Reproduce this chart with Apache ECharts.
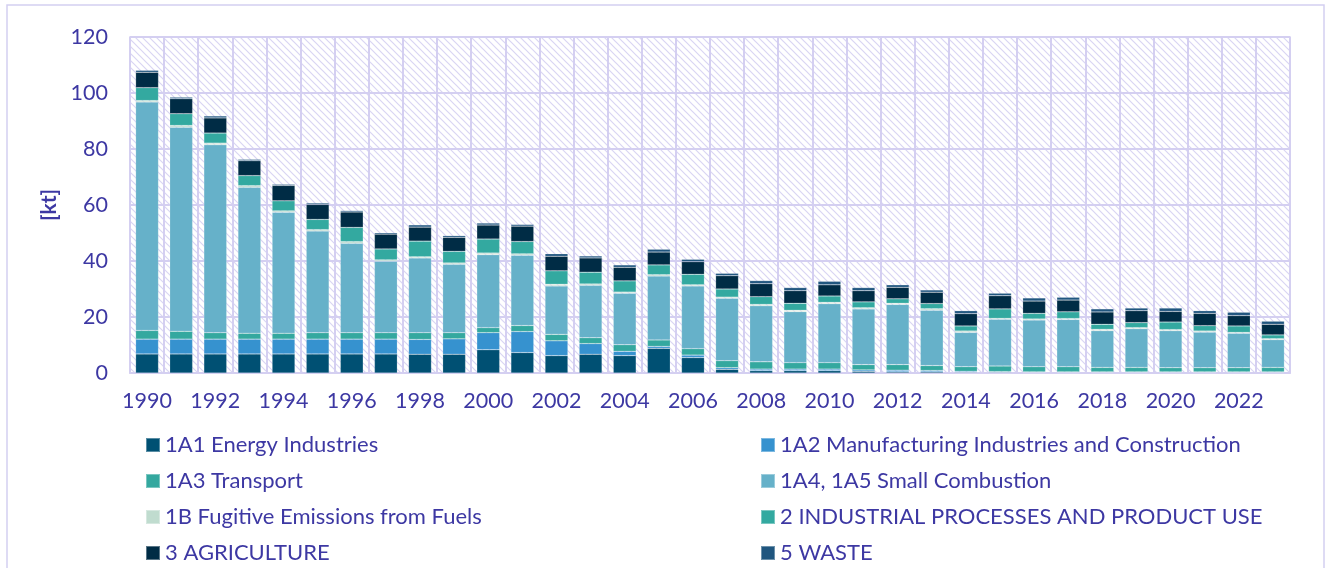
<!DOCTYPE html>
<html>
<head>
<meta charset="utf-8">
<script src="https://cdn.jsdelivr.net/npm/echarts@6/dist/echarts.min.js"></script>
<style>
  html, body { margin: 0; padding: 0; background: #fff; }
  #chart { width: 1330px; height: 568px; }
</style>
</head>
<body>
<div id="chart"></div>
<script>
const years = ['1990','1991','1992','1993','1994','1995','1996','1997','1998','1999','2000','2001','2002','2003','2004','2005','2006','2007','2008','2009','2010','2011','2012','2013','2014','2015','2016','2017','2018','2019','2020','2021','2022','2023']

const energyIndustries = [6.8,6.8,6.8,6.8,6.8,6.8,6.8,6.8,6.7,6.7,8.3,7.3,6.2,6.7,6.2,8.8,5.5,1.3,0.8,0.8,0.8,0.6,0.4,0.4,0.25,0.25,0.2,0.2,0.2,0.2,0.2,0.2,0.2,0.2]
const manufacturing = [5.3,5.3,5.3,5.3,5.3,5.3,5.3,5.3,5.3,5.5,6.1,7.5,5.3,3.8,1.55,0.7,0.9,0.6,0.6,0.6,0.6,0.5,0.6,0.5,0.35,0.25,0.2,0.2,0.2,0.2,0.2,0.2,0.2,0.2]
const transport = [3.1,2.8,2.3,2.1,2.1,2.3,2.3,2.3,2.4,2.2,1.8,2.15,2.3,2.1,2.35,2.3,2.3,2.5,2.6,2.3,2.3,1.9,2.0,1.75,1.65,2.0,1.85,1.85,1.6,1.6,1.5,1.5,1.5,1.6]
const smallCombustion = [81.6,72.9,67.1,52.1,43.2,36.3,31.9,25.5,26.7,24.4,26.05,25.1,17.3,18.7,18.4,22.8,22.4,22.3,20.0,18.2,21.05,19.9,21.5,19.8,12.25,16.7,16.65,16.9,13.1,13.8,13.2,12.7,12.3,9.9]
const fugitive = [0.5,0.6,0.6,0.6,0.5,0.5,0.6,0.5,0.4,0.5,0.6,0.5,0.6,0.5,0.4,0.5,0.4,0.4,0.5,0.5,0.5,0.4,0.4,0.5,0.5,0.3,0.4,0.3,0.5,0.4,0.4,0.4,0.3,0.35]
const industrial = [4.6,4.2,3.6,3.6,3.6,3.65,5.1,3.9,5.6,4.15,5.0,4.4,4.8,4.2,4.0,3.5,3.75,2.9,2.75,2.5,2.25,2.1,1.6,1.85,1.8,3.4,2.0,2.4,1.8,1.8,2.7,1.9,2.3,1.35]
const agriculture = [5.5,5.35,5.4,5.3,5.5,5.35,5.5,5.3,5.0,5.0,5.0,5.5,5.2,5.1,4.85,4.6,4.5,4.75,4.65,4.5,4.0,4.0,4.1,4.05,4.4,4.7,4.4,4.2,4.4,4.25,3.8,4.4,3.7,3.8]
const waste = [0.7,0.55,0.7,0.5,0.4,0.5,0.5,0.5,0.8,0.6,0.7,0.6,0.9,0.7,0.85,1.0,0.85,0.85,1.1,1.1,1.25,1.1,0.9,0.8,1.05,0.9,1.1,1.0,1.1,0.95,1.2,0.95,1.2,1.1]

const textColor = '#3d38a3'
const lineColor = '#d4cff1'
const font = 'Lato'

// hatched plot background
const makeHatch = () => {
  const c = document.createElement('canvas')
  c.width = 7
  c.height = 7
  const ctx = c.getContext('2d')
  ctx.fillStyle = '#ffffff'
  ctx.fillRect(0, 0, 7, 7)
  ctx.strokeStyle = '#d9d5f3'
  ctx.lineWidth = 1.2
  ctx.beginPath()
  ctx.moveTo(-1, -1); ctx.lineTo(8, 8)
  ctx.moveTo(-1, 6); ctx.lineTo(1, 8)
  ctx.moveTo(6, -1); ctx.lineTo(8, 1)
  ctx.stroke()
  return c
}

const series = [
  { name: '1A1 Energy Industries', data: energyIndustries, color: '#005073' },
  { name: '1A2 Manufacturing Industries and Construction', data: manufacturing, color: '#3692cf' },
  { name: '1A3 Transport', data: transport, color: '#34a89f' },
  { name: '1A4, 1A5 Small Combustion', data: smallCombustion, color: '#66b1c9' },
  { name: '1B Fugitive Emissions from Fuels', data: fugitive, color: '#c0dccf' },
  { name: '2 INDUSTRIAL PROCESSES AND PRODUCT USE', data: industrial, color: '#33a9a0' },
  { name: '3 AGRICULTURE', data: agriculture, color: '#002c45' },
  { name: '5 WASTE', data: waste, color: '#20567f' }
].map(s => ({
  name: s.name,
  type: 'bar',
  stack: 'total',
  barCategoryGap: '33%',
  data: s.data,
  itemStyle: { color: s.color, borderColor: 'rgba(255,255,255,0.35)', borderWidth: 0.5 }
}))

const legendBase = {
  orient: 'vertical',
  icon: 'rect',
  itemWidth: 14,
  itemHeight: 14,
  itemGap: 14,
  padding: 0,
  top: 434,
  height: 134,
  textStyle: { color: textColor, fontSize: 22, fontFamily: font }
}

const chart = echarts.init(document.getElementById('chart'))
chart.setOption({
  animation: false,
  graphic: [{
    type: 'rect',
    shape: { x: 7, y: 5, width: 1317, height: 570 },
    style: { fill: 'none', stroke: lineColor, lineWidth: 1.5 },
    silent: true
  }],
  grid: {
    left: 130, right: 40, top: 37, bottom: 195,
    show: true,
    backgroundColor: { image: makeHatch(), repeat: 'repeat' },
    borderColor: lineColor,
    borderWidth: 1.5
  },
  legend: [
    { ...legendBase, left: 145, data: [series[0].name, series[2].name, series[4].name, series[6].name] },
    { ...legendBase, left: 760, data: [series[1].name, series[3].name, series[5].name, series[7].name] }
  ],
  xAxis: {
    type: 'category',
    data: years,
    axisLine: { lineStyle: { color: lineColor, width: 2 } },
    axisTick: { show: false },
    axisLabel: { color: textColor, fontSize: 21.5, fontFamily: font, interval: 1, margin: 17 },
    splitLine: { show: true, interval: 0, lineStyle: { color: lineColor, width: 2 } }
  },
  yAxis: {
    type: 'value',
    min: 0, max: 120, interval: 20,
    name: '[kt]',
    nameLocation: 'middle',
    nameGap: 70,
    nameTextStyle: { color: textColor, fontSize: 21, fontWeight: 'bold', fontFamily: font },
    axisLine: { show: false },
    axisTick: { show: false },
    axisLabel: { color: textColor, fontSize: 21.5, fontFamily: font, margin: 22 },
    splitLine: { lineStyle: { color: lineColor, width: 2 } }
  },
  series
})
</script>
</body>
</html>
